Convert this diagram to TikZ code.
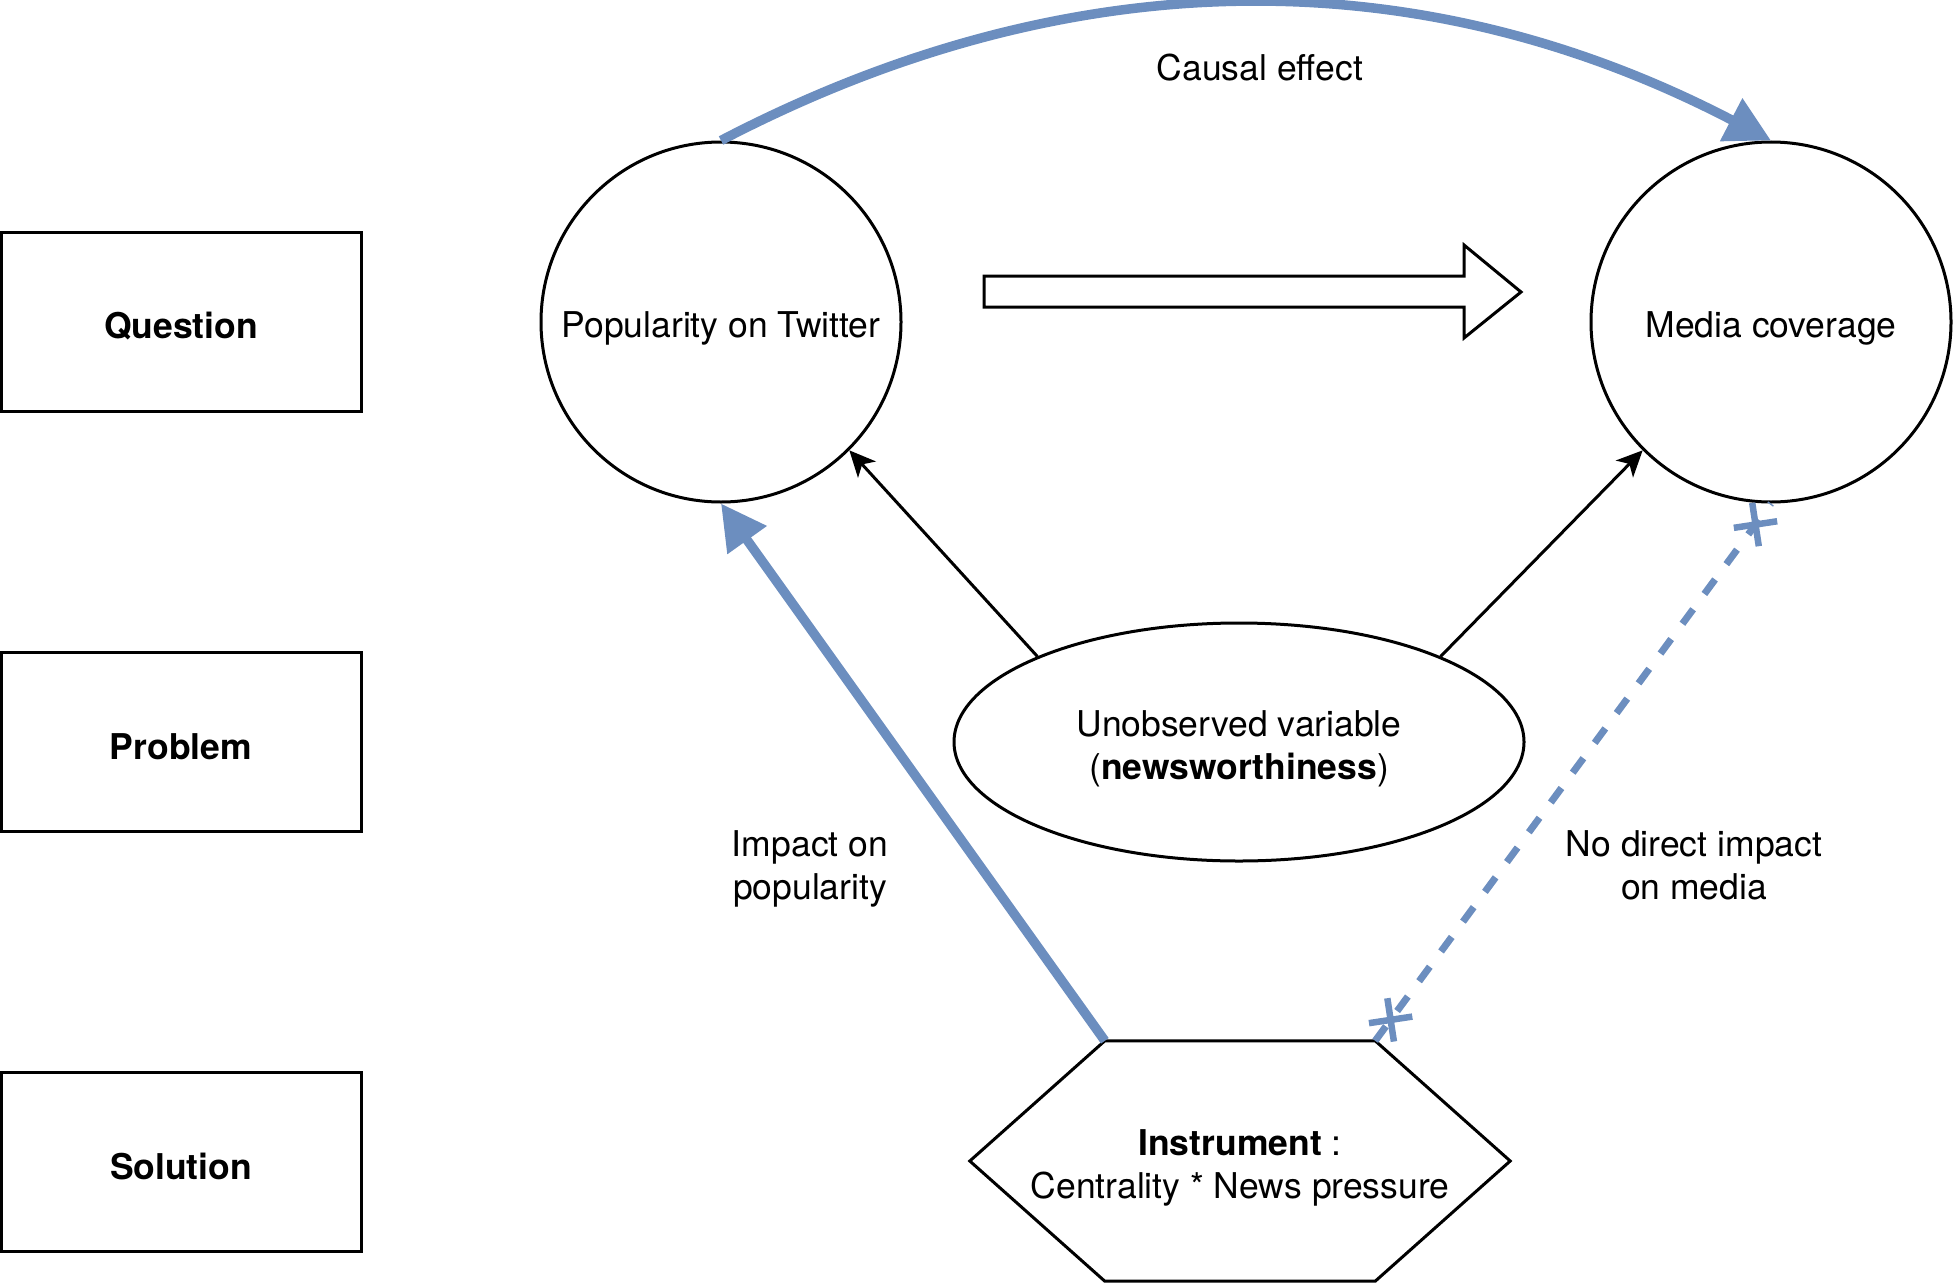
\documentclass[tikz,border=0pt]{standalone}
\usepackage{fontspec}
\setmainfont{TeX Gyre Heros}
\usetikzlibrary{arrows.meta,decorations.markings,shapes.geometric}
\definecolor{dioblue}{HTML}{6C8EBF}
\begin{document}
\begin{tikzpicture}[x=1pt,y=-1pt,
  txt/.style={font=\fontsize{35.5pt}{43pt}\selectfont, align=center, inner sep=0pt},
  btxt/.style={txt, font=\fontsize{35.5pt}{43pt}\selectfont\bfseries},
  labelbox/.style={draw, line width=3pt, minimum width=360pt, minimum height=179pt, inner sep=0pt},
  circ/.style={draw, circle, line width=3pt, minimum size=360pt, inner sep=0pt},
  ellnode/.style={draw, ellipse, line width=3pt, minimum width=570pt, minimum height=238pt, inner sep=0pt},
  blackarrow/.style={line width=3pt, -{Stealth[length=26pt, width=24pt, inset=7pt]}},
  bluearrow/.style={draw=dioblue, line width=9.5pt, -{Triangle[length=45pt, width=46pt]}},
  crossmark/.style={solid, dioblue, line width=6.5pt},
  nolink/.style={draw=dioblue, line width=7pt, dash pattern=on 18pt off 19pt,
    postaction={decorate, decoration={markings,
      mark=at position 26pt with {\draw[crossmark] (-15.5,-15.5) -- (15.5,15.5) (-15.5,15.5) -- (15.5,-15.5);},
      mark=at position -26pt with {\draw[crossmark] (-15.5,-15.5) -- (15.5,15.5) (-15.5,15.5) -- (15.5,-15.5);}}}}
]
\useasboundingbox (0,0) rectangle (1953,1287);

% row labels
\node[labelbox] (question) at (181,321.5) {};
\node[labelbox] (problem)  at (181,741.5) {};
\node[labelbox] (solution) at (181,1161.5) {};
\node[btxt] (questiontxt) at ([yshift=-5pt]question.center) {Question};
\node[btxt] (problemtxt)  at ([yshift=-5pt]problem.center) {Problem};
\node[btxt] (solutiontxt) at ([yshift=-5pt]solution.center) {Solution};

% main nodes
\node[circ] (pop) at (721,322) {};
\node[circ] (media) at (1771,322) {};
\node[ellnode] (ell) at (1239,742) {};
\node[txt] (poptxt) at ([yshift=-6pt]pop.center) {Popularity on Twitter};
\node[txt] (mediatxt) at ([yshift=-6pt]media.center) {Media coverage};
\node[txt] (elltxt) at ([yshift=-7pt]ell.center) {Unobserved variable\\(\textbf{newsworthiness})};

\node[minimum width=540pt, minimum height=240pt, inner sep=0pt] (hex) at (1240,1161) {};
\node[txt] (hextxt) at ([yshift=-7pt]hex.center) {\textbf{Instrument} :\\Centrality * News pressure};
\draw[line width=3pt] (hex.west) -- ([xshift=135pt]hex.north west) coordinate (hexTL)
  -- ([xshift=-135pt]hex.north east) coordinate (hexTR) -- (hex.east)
  -- ([xshift=-135pt]hex.south east) -- ([xshift=135pt]hex.south west) -- cycle;

% hollow arrow
\draw[line width=3pt, line join=miter] (984,276) -- (1464,276) -- (1464,245) -- (1521,292)
  -- (1464,338) -- (1464,307) -- (984,307) -- cycle;

% connectors
\draw[blackarrow] (ell.157) -- (pop.-45);
\draw[blackarrow] (ell.23) -- (media.225);
\draw[bluearrow] (pop.north) .. controls (1071,-42) and (1421,-42) .. (media.north);
\draw[bluearrow] (hexTL) -- (pop.south);
\draw[nolink] (hexTR) -- (media.south);

% labels
\node[txt] (causal) at (1260,68) {Causal effect};
\node[txt] (impact) at (810,869) {Impact on\\popularity};
\node[txt] (nodirect) at (1694,865) {No direct impact\\on media};
\end{tikzpicture}
\end{document}
